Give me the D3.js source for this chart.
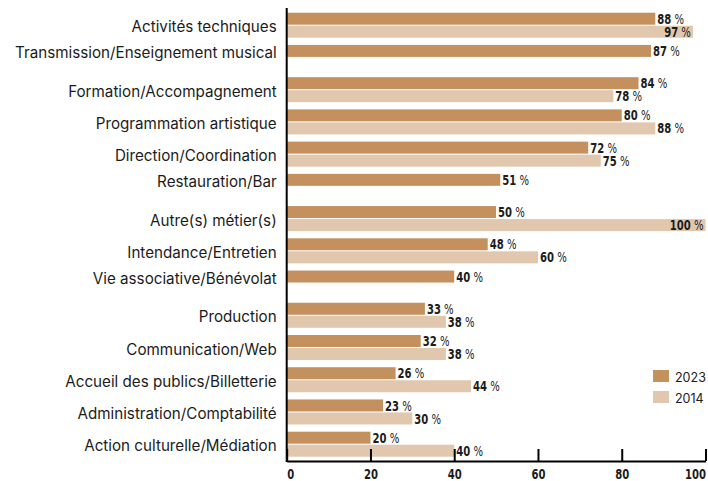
<!DOCTYPE html>
<html>
<head>
<meta charset="utf-8">
<script src="https://cdn.jsdelivr.net/npm/d3@7"></script>
<style>
  body { margin: 0; background: #fff; }
  svg { display: block; }
  .cat { font-family: Inter, "Open Sans", sans-serif; font-size: 15.2px; fill: #1c1c1c; }
  .val { font-family: "Liberation Sans Narrow", "DejaVu Sans Condensed", sans-serif; font-stretch: condensed; font-size: 14px; fill: #1c1c1c; }
  .legend text { font-family: Inter, "Open Sans", sans-serif; font-size: 12.5px; fill: #1c1c1c; }
</style>
</head>
<body>
<div id="chart"></div>
<script>
const categories = [
    "Activités techniques",
    "Transmission/Enseignement musical",
    "Formation/Accompagnement",
    "Programmation artistique",
    "Direction/Coordination",
    "Restauration/Bar",
    "Autre(s) métier(s)",
    "Intendance/Entretien",
    "Vie associative/Bénévolat",
    "Production",
    "Communication/Web",
    "Accueil des publics/Billetterie",
    "Administration/Comptabilité",
    "Action culturelle/Médiation"
];
const values2023 = [88, 87, 84, 80, 72, 51, 50, 48, 40, 33, 32, 26, 23, 20];
const values2014 = [97, null, 78, 88, 75, null, 100, 60, null, 38, 38, 44, 30, 40];
const years = ["2023", "2014"];
const colors = ["#c4915e", "#e0c7ae"];
const xTicks = [0, 20, 40, 60, 80, 100];

const width = 708, height = 481;
const axisY = 461;
const narrow = 0.8; // squeeze the condensed font a bit more

let svg = d3.select("#chart")
    .append("svg")
    .attr("width", width)
    .attr("height", height);

let x = d3.scaleLinear()
    .domain([0, 100])
    .range([286.7, 705.5]);

let y = d3.scaleBand()
    .domain(categories)
    .range([12.7, 456.7])
    .paddingInner(0.224)
    .paddingOuter(0);

let ySub = d3.scaleBand()
    .domain(years)
    .range([0, y.bandwidth()])
    .paddingInner(0.08);

let rows = categories.map(function(c, i) {
    return { cat: c, values: [values2023[i], values2014[i]] };
});

// bars + value labels
let groups = svg.selectAll("g.row")
    .data(rows)
    .enter()
    .append("g")
    .attr("class", "row")
    .attr("transform", d => `translate(0, ${y(d.cat)})`);

let items = groups.selectAll("g.item")
    .data(d => d.values.map((v, j) => ({ year: years[j], value: v, color: colors[j] })).filter(e => e.value != null))
    .enter()
    .append("g")
    .attr("class", "item");

items.append("rect")
    .attr("x", x(0))
    .attr("y", d => ySub(d.year))
    .attr("width", d => x(d.value) - x(0))
    .attr("height", ySub.bandwidth())
    .attr("fill", d => d.color);

let vals = items.append("text")
    .attr("class", "val")
    .attr("transform", function(d) {
        let tx = d.value > 90 ? x(d.value) - 2 : x(d.value) + 2;
        let ty = ySub(d.year) + ySub.bandwidth() / 2;
        return `translate(${tx}, ${ty}) scale(${narrow}, 1)`;
    })
    .attr("dy", "0.36em")
    .style("text-anchor", d => d.value > 90 ? "end" : "start");
vals.append("tspan").style("font-weight", "bold").text(d => d.value);
vals.append("tspan").text(" %");

// category labels
svg.append("g")
    .selectAll("text")
    .data(rows)
    .enter()
    .append("text")
    .attr("class", "cat")
    .attr("x", x(0) - 10)
    .attr("y", function(d) {
        let both = d.values[1] != null;
        let mid = both ? y.bandwidth() / 2 : ySub(years[0]) + ySub.bandwidth() / 2;
        return y(d.cat) + mid + 7;
    })
    .style("text-anchor", "end")
    .text(d => d.cat);

// axes
svg.append("line")
    .attr("x1", x(0)).attr("x2", x(0))
    .attr("y1", 8).attr("y2", axisY + 1)
    .attr("stroke", "#000")
    .attr("stroke-width", 2);

let xAxis = svg.append("g")
    .attr("transform", `translate(0, ${axisY})`)
    .call(d3.axisBottom(x).tickValues(xTicks).tickSize(-12).tickSizeOuter(0).tickPadding(8));

xAxis.select(".domain").attr("stroke", "#000").attr("stroke-width", 2);
xAxis.selectAll(".tick line").attr("stroke", "#000").attr("stroke-width", 2);
xAxis.selectAll(".tick text")
    .attr("class", "val")
    .attr("transform", `scale(${narrow}, 1)`)
    .style("font-weight", "bold")
    .style("font-size", "14px")
    .attr("fill", "#1c1c1c")
    .style("text-anchor", d => d == 0 ? "start" : (d == 100 ? "end" : "middle"));

// legend
let legend = svg.append("g")
    .attr("class", "legend")
    .selectAll("g")
    .data(years)
    .enter()
    .append("g")
    .attr("transform", (d, i) => `translate(653, ${370 + i * 21})`);

legend.append("rect")
    .attr("width", 16)
    .attr("height", 12)
    .attr("fill", (d, i) => colors[i]);

legend.append("text")
    .attr("x", 22)
    .attr("y", 11.5)
    .text(d => d);
</script>
</body>
</html>
